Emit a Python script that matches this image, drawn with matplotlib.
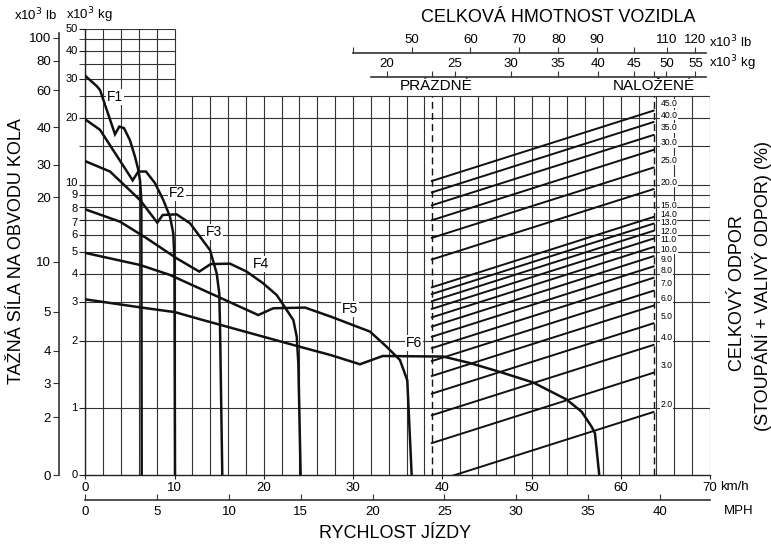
import numpy as np
import matplotlib
matplotlib.use("Agg")
import matplotlib.pyplot as plt
import matplotlib.transforms as mtransforms
from matplotlib.ticker import FixedLocator, NullLocator, NullFormatter

plt.rcParams["font.family"] = ["Liberation Sans", "DejaVu Sans"]

# rychlost (km/h) a tazna sila (x10^3 kg) pro prevodove stupne F1..F6
f1_speed = [0, 1.28, 1.65, 3.33, 3.81, 4.34, 5.0, 5.57, 5.94, 6.13, 6.28, 6.32]
f1_force = [30.9, 27.8, 26.7, 16.9, 18.3, 18.0, 15.9, 13.4, 11.7, 10.5, 8.6, 0]
f2_speed = [0, 1.65, 5.31, 5.94, 6.8, 7.81, 8.74, 9.49, 9.86, 9.99, 10.05]
f2_force = [19.7, 17.7, 10.5, 11.5, 11.5, 10.2, 8.57, 7.21, 6.07, 4.6, 0]
f3_speed = [0, 2.77, 6.13, 8.07, 8.67, 10.24, 11.73, 12.29, 13.97, 14.72, 15.01, 15.09, 15.35]
f3_force = [12.8, 11.5, 8.57, 6.78, 7.34, 7.39, 6.74, 6.29, 5.11, 4.02, 3.27, 2.40, 0]
f4_speed = [0, 3.89, 6.88, 10.24, 12.77, 14.05, 16.21, 18.08, 19.94, 21.45, 22.57, 23.31, 23.69, 23.87, 24.13]
f4_force = [7.78, 6.85, 5.77, 4.69, 4.09, 4.42, 4.44, 4.09, 3.62, 3.21, 2.75, 2.48, 2.09, 1.59, 0]
f5_speed = [0, 6.13, 9.49, 19.38, 21.06, 24.62, 27.6, 31.9, 33.77, 35.26, 36.08, 36.57]
f5_force = [4.96, 4.38, 3.95, 2.61, 2.80, 2.82, 2.56, 2.20, 1.88, 1.64, 1.33, 0]
f6_speed = [0, 6.32, 10.05, 12.85, 24.06, 27.42, 30.78, 33.32, 40.11, 43.1, 46.47, 50.2, 53.94, 55.62, 56.74, 57.11, 57.59]
f6_force = [3.07, 2.82, 2.69, 2.50, 1.88, 1.73, 1.57, 1.71, 1.70, 1.59, 1.45, 1.30, 1.09, 0.961, 0.823, 0.769, 0]

gear_names = ["F1", "F2", "F3", "F4", "F5", "F6"]
gear_label_speed = [3.33, 10.24, 14.42, 19.69, 29.66, 36.86]
gear_label_force = [24.9, 9.17, 6.14, 4.41, 2.78, 1.95]

# celkovy odpor (%) a hmotnost vozidla (x10^3 kg)
grades = [2, 3, 4, 5, 6, 7, 8, 9, 10, 11, 12, 13, 14, 15, 20, 25, 30, 35, 40, 45]
mass_empty = 23.18
mass_loaded = 47.96

# osy
kg_ticks = [0, 1, 2, 3, 4, 5, 6, 7, 8, 9, 10, 20, 30, 40, 50]
kg_minor = [15, 25, 35, 45]
lb_ticks = [0, 2, 3, 4, 5, 10, 20, 30, 40, 60, 80, 100]
lb_tick_pos = [0, 0.907, 1.29, 1.806, 2.70, 4.53, 8.83, 12.35, 18.2, 26.7, 36.1, 45.8]
top_kg_ticks = [20, 25, 30, 35, 40, 45, 50, 55]
top_lb_labels = ["", "50", "60", "70", "80", "90", "", "110", "120"]
top_lb_pos = [17.9, 21.7, 26.3, 30.8, 35.1, 39.8, 45.0, 50.1, 55.0]
kmh_ticks = list(range(0, 80, 10))
mph_ticks = list(range(0, 45, 5))

ZERO = 0.5   # kde graf kresli "0" na logaritmicke ose
MASS_LIM = (7.44, 57.7)


def z(vals):
    v = np.asarray(vals, dtype=float)
    return np.where(v <= 0, ZERO, v)


W, H = 771, 548
fig = plt.figure(figsize=(W / 100, H / 100), dpi=100)
L, R, T, B = 85.3, 710.0, 29.3, 475.0
rect = [L / W, 1 - B / H, (R - L) / W, (B - T) / H]
px_decade = (B - T) / 2.0

ax = fig.add_axes(rect)
ax.set_yscale("log")
ax.set_xlim(0, 70)
ax.set_ylim(ZERO, 50)
for s in ["top", "right"]:
    ax.spines[s].set_visible(False)
for s in ["left", "bottom"]:
    ax.spines[s].set_linewidth(1.0)
    ax.spines[s].set_color("#222222")

gc = "#333333"
glw = 0.8
grid_speed = np.arange(0, 72, 2)
ax.vlines(grid_speed, ZERO, 25, color=gc, lw=glw, zorder=1)
ax.vlines(grid_speed[grid_speed <= 10], 25, 50, color=gc, lw=glw, zorder=1)
main_rows = [k for k in kg_ticks + kg_minor if 0 < k <= 25]
upper_rows = [k for k in kg_ticks + kg_minor if k > 25]
ax.hlines(main_rows, 0, 70, color=gc, lw=glw, zorder=1)
ax.hlines(upper_rows, 0, 10, color=gc, lw=glw, zorder=1)

curves = [(f1_speed, f1_force), (f2_speed, f2_force), (f3_speed, f3_force),
          (f4_speed, f4_force), (f5_speed, f5_force), (f6_speed, f6_force)]
for sp, fo in curves:
    ax.plot(sp, z(fo), color="#111111", lw=1.8, zorder=3, solid_joinstyle="miter")

for name, sx, fy in zip(gear_names, gear_label_speed, gear_label_force):
    ax.text(sx, fy, name, ha="center", va="center", fontsize=10, zorder=5,
            bbox=dict(facecolor="white", edgecolor="none", pad=0.6))

ax.yaxis.set_minor_locator(FixedLocator(kg_minor))
ax.yaxis.set_minor_formatter(NullFormatter())
ax.set_yticks(z(kg_ticks))
ax.set_yticklabels([])
ax.tick_params(axis="y", which="both", direction="out", length=4,
               color="#222222")
# popisky kg osy vlastnim textem, husta mista 7-10 lehce roztazena
ylab = mtransforms.blended_transform_factory(fig.transFigure, ax.transData)
nudge = {10: 2.0, 8: -2.0, 7: -3.0}
for k, yv in zip(kg_ticks, z(kg_ticks)):
    tr = ylab + mtransforms.ScaledTranslation(0, nudge.get(k, 0.0) / 100,
                                              fig.dpi_scale_trans)
    fig.text(77.5 / W, yv, str(k), transform=tr, ha="right", va="center",
             fontsize=8)
ax.set_xticks(kmh_ticks)
ax.set_xticklabels([str(k) for k in kmh_ticks])
ax.tick_params(axis="x", direction="out", length=3, pad=2, labelsize=9.5,
               color="#222222")

# hmotnost vozidla a odpor
ax2 = ax.twiny()
ax2.set_xscale("log")
ax2.set_xlim(*MASS_LIM)
ax2.set_ylim(ZERO, 50)
ax2.xaxis.set_major_locator(NullLocator())
ax2.xaxis.set_minor_locator(NullLocator())
for s in ax2.spines.values():
    s.set_visible(False)

ax2.vlines([mass_empty, mass_loaded], ZERO, 25, color="#111111", lw=1.0,
           linestyles=(0, (5, 3)), zorder=2)

# popisky odporu nad konci car, posunute aby se neprekryvaly
lift = 10 ** (7.0 / px_decade)
gap = 10 ** (8.6 / px_decade)
label_pos = []
prev = None
for g in grades:
    lt = mass_loaded * g / 100.0 * lift
    if prev is not None and lt < prev * gap:
        lt = prev * gap
    label_pos.append(lt)
    prev = lt

for g, lt in zip(grades, label_pos):
    m = np.array([mass_empty, mass_loaded])
    ax2.plot(m, m * g / 100.0, color="#111111", lw=1.4, zorder=3)
    ax2.annotate(f"{g:.1f}", xy=(mass_loaded, lt),
                 xytext=(5, 0), textcoords="offset points", fontsize=6.2,
                 ha="left", va="center", zorder=6,
                 bbox=dict(facecolor="white", edgecolor="none", pad=0.1))

blend = mtransforms.blended_transform_factory(ax2.transData, ax2.transAxes)
ax2.text(mass_empty * 1.015, (B - 86) / (B - T), "PRÁZDNÉ", transform=blend,
         ha="center", va="center", fontsize=11)
ax2.text(mass_loaded, (B - 86) / (B - T), "NALOŽENÉ", transform=blend,
         ha="center", va="center", fontsize=11)


def top_scale(ypix, ticks, labels, bounds):
    a = fig.add_axes([L / W, 1 - ypix / H, (R - L) / W, 1e-5])
    a.set_xscale("log")
    a.set_xlim(*MASS_LIM)
    a.patch.set_visible(False)
    for s in ["left", "right", "bottom"]:
        a.spines[s].set_visible(False)
    a.spines["top"].set_bounds(*bounds)
    a.spines["top"].set_color("#333333")
    a.spines["top"].set_linewidth(1.2)
    a.yaxis.set_major_locator(NullLocator())
    a.xaxis.set_ticks_position("top")
    a.xaxis.set_minor_locator(NullLocator())
    a.set_xticks(ticks)
    a.set_xticklabels(labels)
    a.tick_params(axis="x", direction="out", length=4, pad=1, labelsize=9.5,
                  color="#333333")
    return a


top_scale(53, top_lb_pos, top_lb_labels, (17.9, 57.0))
top_scale(76.7, top_kg_ticks + [mass_empty, mass_loaded],
          [str(k) for k in top_kg_ticks] + ["", ""], (19.0, 57.0))

# leva osa v librach
axl = fig.add_axes([59.3 / W, 1 - B / H, 1e-5, (B - T) / H])
axl.set_yscale("log")
axl.set_ylim(ZERO, 50)
axl.patch.set_visible(False)
for s in ["top", "right", "bottom"]:
    axl.spines[s].set_visible(False)
axl.spines["left"].set_bounds(ZERO, 48)
axl.spines["left"].set_color("#333333")
axl.spines["left"].set_linewidth(1.2)
axl.xaxis.set_major_locator(NullLocator())
axl.yaxis.set_minor_locator(NullLocator())
axl.set_yticks(z(lb_tick_pos))
axl.set_yticklabels([str(k) for k in lb_ticks])
axl.tick_params(axis="y", direction="out", length=4, pad=2, labelsize=9.5,
                color="#333333")

# osa MPH
axm = fig.add_axes([L / W, 1 - 500 / H, (R - L) / W, 1e-5])
axm.set_xlim(0, 70 / 1.609344)
axm.patch.set_visible(False)
for s in ["top", "right", "left"]:
    axm.spines[s].set_visible(False)
axm.spines["bottom"].set_color("#333333")
axm.spines["bottom"].set_linewidth(1.2)
axm.yaxis.set_major_locator(NullLocator())
axm.set_xticks(mph_ticks)
axm.set_xticklabels([str(k) for k in mph_ticks])
axm.tick_params(axis="x", direction="in", length=4, pad=4, labelsize=9.5,
                color="#333333")

# texty
fig.text(558 / W, 1 - 18 / H, "CELKOVÁ HMOTNOST VOZIDLA", ha="center",
         va="center", fontsize=13)
fig.text(709 / W, 1 - 42 / H, "x10$^3$ lb", ha="left", va="center", fontsize=9.5)
fig.text(709 / W, 1 - 63 / H, "x10$^3$ kg", ha="left", va="center", fontsize=9.5)
fig.text(36 / W, 1 - 15 / H, "x10$^3$ lb", ha="center", va="center", fontsize=9.5)
fig.text(89 / W, 1 - 15 / H, "x10$^3$ kg", ha="center", va="center", fontsize=9.5)
fig.text(720 / W, 1 - 487 / H, "km/h", ha="left", va="center", fontsize=9.5)
fig.text(724 / W, 1 - 511 / H, "MPH", ha="left", va="center", fontsize=9.5)
fig.text(395 / W, 1 - 533 / H, "RYCHLOST JÍZDY", ha="center", va="center",
         fontsize=13)
fig.text(17 / W, 1 - 251 / H, "TAŽNÁ SÍLA NA OBVODU KOLA", ha="center",
         va="center", rotation=90, fontsize=13)
fig.text(738 / W, 1 - 293 / H, "CELKOVÝ ODPOR", ha="center", va="center",
         rotation=90, fontsize=13)
fig.text(762 / W, 1 - 286 / H, "(STOUPÁNÍ + VALIVÝ ODPOR) (%)", ha="center",
         va="center", rotation=90, fontsize=13)

fig.savefig("out.png", dpi=100)
plt.close(fig)
